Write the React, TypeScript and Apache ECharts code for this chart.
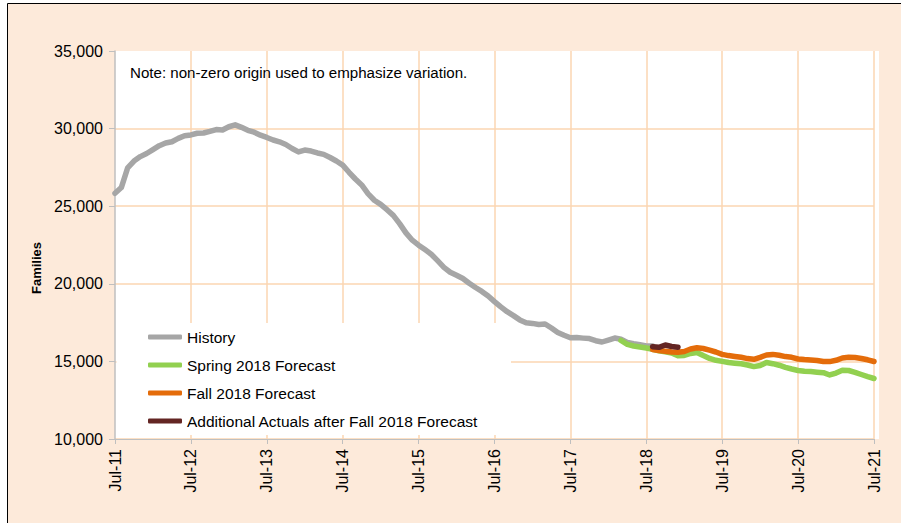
import React, { useEffect, useRef } from "react";
import * as echarts from "echarts";

const MONTHS = ["Jan", "Feb", "Mar", "Apr", "May", "Jun", "Jul", "Aug", "Sep", "Oct", "Nov", "Dec"];
// Monthly categories Jul-11 .. Jul-21
const categories: string[] = [];
for (let i = 0; i <= 120; i++) {
  const m = (6 + i) % 12;
  const y = 11 + Math.floor((6 + i) / 12);
  categories.push(`${MONTHS[m]}-${y}`);
}

const yTicks = [10000, 15000, 20000, 25000, 30000, 35000];

// History: Jul-11 .. Aug-18
const history = [
  25830, 26200, 27475, 27910, 28195, 28395, 28650, 28900, 29070, 29155, 29370, 29540,
  29590, 29700, 29715, 29820, 29935, 29910, 30120, 30240, 30080, 29890, 29770, 29574,
  29430, 29265, 29150, 28975, 28717, 28500, 28620, 28555, 28430, 28340, 28137, 27911,
  27650, 27184, 26752, 26370, 25805, 25386, 25120, 24774, 24410, 23880, 23280, 22810,
  22487, 22203, 21907, 21494, 21063, 20747, 20553, 20341, 20032, 19760, 19510, 19213,
  18853, 18511, 18202, 17950, 17674, 17487, 17448, 17377, 17410, 17150, 16862, 16681,
  16520, 16534, 16500, 16469, 16333, 16250, 16378, 16507, 16424, 16224, 16140, 16069,
  15992, 15992,
];
// Spring 2018 Forecast: Mar-18 .. Jul-21
const springStart = 80;
const spring = [
  16346, 16095, 15992, 15928, 15863, 15786, 15689, 15612, 15541, 15360, 15380, 15509,
  15567, 15374, 15193, 15071, 15000, 14929, 14884, 14846, 14768, 14665, 14736, 14929,
  14852, 14755, 14620, 14510, 14413, 14362, 14342, 14304, 14272, 14124, 14252, 14433,
  14413, 14297, 14156, 14020, 13898,
];
// Fall 2018 Forecast: Aug-18 .. Jul-21
const fallStart = 85;
const fall = [
  15766, 15702, 15657, 15605, 15586, 15638, 15799, 15876, 15831, 15721, 15605, 15451,
  15374, 15322, 15264, 15180, 15135, 15264, 15412, 15451, 15393, 15309, 15264, 15154,
  15116, 15090, 15058, 14993, 14987, 15071, 15219, 15264, 15251, 15187, 15103, 14993,
];
// Additional actuals: Aug-18 .. Dec-18
const actualsStart = 85;
const actuals = [15950, 15908, 16056, 15960, 15908];

const pad = (start: number, arr: number[]) => {
  const out: (number | null)[] = [];
  for (let i = 0; i < categories.length; i++) {
    const j = i - start;
    out.push(j >= 0 && j < arr.length ? arr[j] : null);
  }
  return out;
};

const FONT = "'Liberation Sans', Arial, sans-serif";
const GRID_C = "#FBD6B2";
const AXIS_C = "#BFBFBF";

export default function App() {
  const ref = useRef<HTMLDivElement>(null);
  useEffect(() => {
    if (!ref.current) return;
    const chart = echarts.init(ref.current, null, { renderer: "svg" });
    const lineSeries = (name: string, color: string, data: (number | null)[]) => ({
      name,
      type: "line",
      data,
      color,
      itemStyle: { color },
      showSymbol: false,
      symbol: "none",
      connectNulls: false,
      lineStyle: { color, width: 5.5, cap: "round", join: "round" },
      emphasis: { disabled: true },
    });
    chart.setOption({
      animation: false,
      backgroundColor: "#ffffff",
      textStyle: { fontFamily: FONT },
      grid: { left: 115, top: 51, width: 759, height: 388, containLabel: false },
      xAxis: {
        type: "category",
        data: categories,
        boundaryGap: false,
        axisLine: { show: true, lineStyle: { color: AXIS_C, width: 1 } },
        axisTick: { show: true, interval: 11, length: 5, lineStyle: { color: AXIS_C } },
        axisLabel: {
          interval: 11,
          rotate: 90,
          margin: 10,
          color: "#000",
          fontSize: 16,
          fontFamily: FONT,
        },
        splitLine: {
          show: true,
          interval: 11,
          lineStyle: { color: ["rgba(0,0,0,0)", GRID_C, GRID_C, GRID_C, GRID_C, GRID_C, GRID_C, GRID_C, GRID_C, GRID_C, GRID_C], width: 1.5 },
        },
      },
      yAxis: {
        type: "value",
        min: yTicks[0],
        max: yTicks[yTicks.length - 1],
        interval: 5000,
        axisLine: { show: true, lineStyle: { color: AXIS_C, width: 1.5 } },
        axisTick: { show: true, length: 6, lineStyle: { color: AXIS_C } },
        axisLabel: {
          margin: 12,
          color: "#000",
          fontSize: 16,
          fontFamily: FONT,
          formatter: (v: number) => v.toLocaleString("en-US"),
        },
        splitLine: {
          show: true,
          lineStyle: { color: [GRID_C, GRID_C, GRID_C, GRID_C, GRID_C, "rgba(0,0,0,0)"], width: 1.5 },
        },
      },
      legend: {
        show: true,
        orient: "vertical",
        left: 148,
        top: 329,
        padding: 0,
        itemWidth: 34,
        itemHeight: 5,
        itemGap: 12,
        icon: "roundRect",
        textStyle: { fontSize: 15.5, lineHeight: 15, color: "#000", fontFamily: FONT },
        data: ["History", "Spring 2018 Forecast", "Fall 2018 Forecast", "Additional Actuals after Fall 2018 Forecast"],
        selectedMode: false,
      },
      graphic: [
        { type: "rect", z: -10, silent: true, shape: { x: 8, y: 4, width: 893, height: 519 }, style: { fill: "#FDEADA" } },
        { type: "rect", z: -9, silent: true, shape: { x: 115, y: 51, width: 764, height: 388 }, style: { fill: "#ffffff" } },
        { type: "rect", z: 1, silent: true, shape: { x: 116.5, y: 323, width: 394.5, height: 112 }, style: { fill: "#ffffff" } },
        { type: "line", z: 5, silent: true, shape: { x1: 7.5, y1: 3.5, x2: 901, y2: 3.5 }, style: { stroke: "#000", lineWidth: 1 } },
        { type: "line", z: 5, silent: true, shape: { x1: 7.5, y1: 3.5, x2: 7.5, y2: 523 }, style: { stroke: "#000", lineWidth: 1 } },
        {
          type: "text",
          z: 5,
          x: 130,
          y: 72,
          style: { text: "Note: non-zero origin used to emphasize variation.", fontSize: 15.1, fontFamily: FONT, fill: "#000", align: "left", verticalAlign: "middle" },
        },
        {
          type: "text",
          z: 5,
          x: 36,
          y: 268,
          rotation: Math.PI / 2,
          style: { text: "Families", fontSize: 13, fontWeight: "bold", fontFamily: FONT, fill: "#000", align: "center", verticalAlign: "middle" },
        },
      ],
      series: [
        lineSeries("History", "#A6A6A6", pad(0, history)),
        lineSeries("Spring 2018 Forecast", "#92D050", pad(springStart, spring)),
        lineSeries("Fall 2018 Forecast", "#E46C0A", pad(fallStart, fall)),
        lineSeries("Additional Actuals after Fall 2018 Forecast", "#632523", pad(actualsStart, actuals)),
      ],
    });
    return () => chart.dispose();
  }, []);
  return <div ref={ref} style={{ position: "fixed", left: 0, top: 0, width: 901, height: 523 }} />;
}
